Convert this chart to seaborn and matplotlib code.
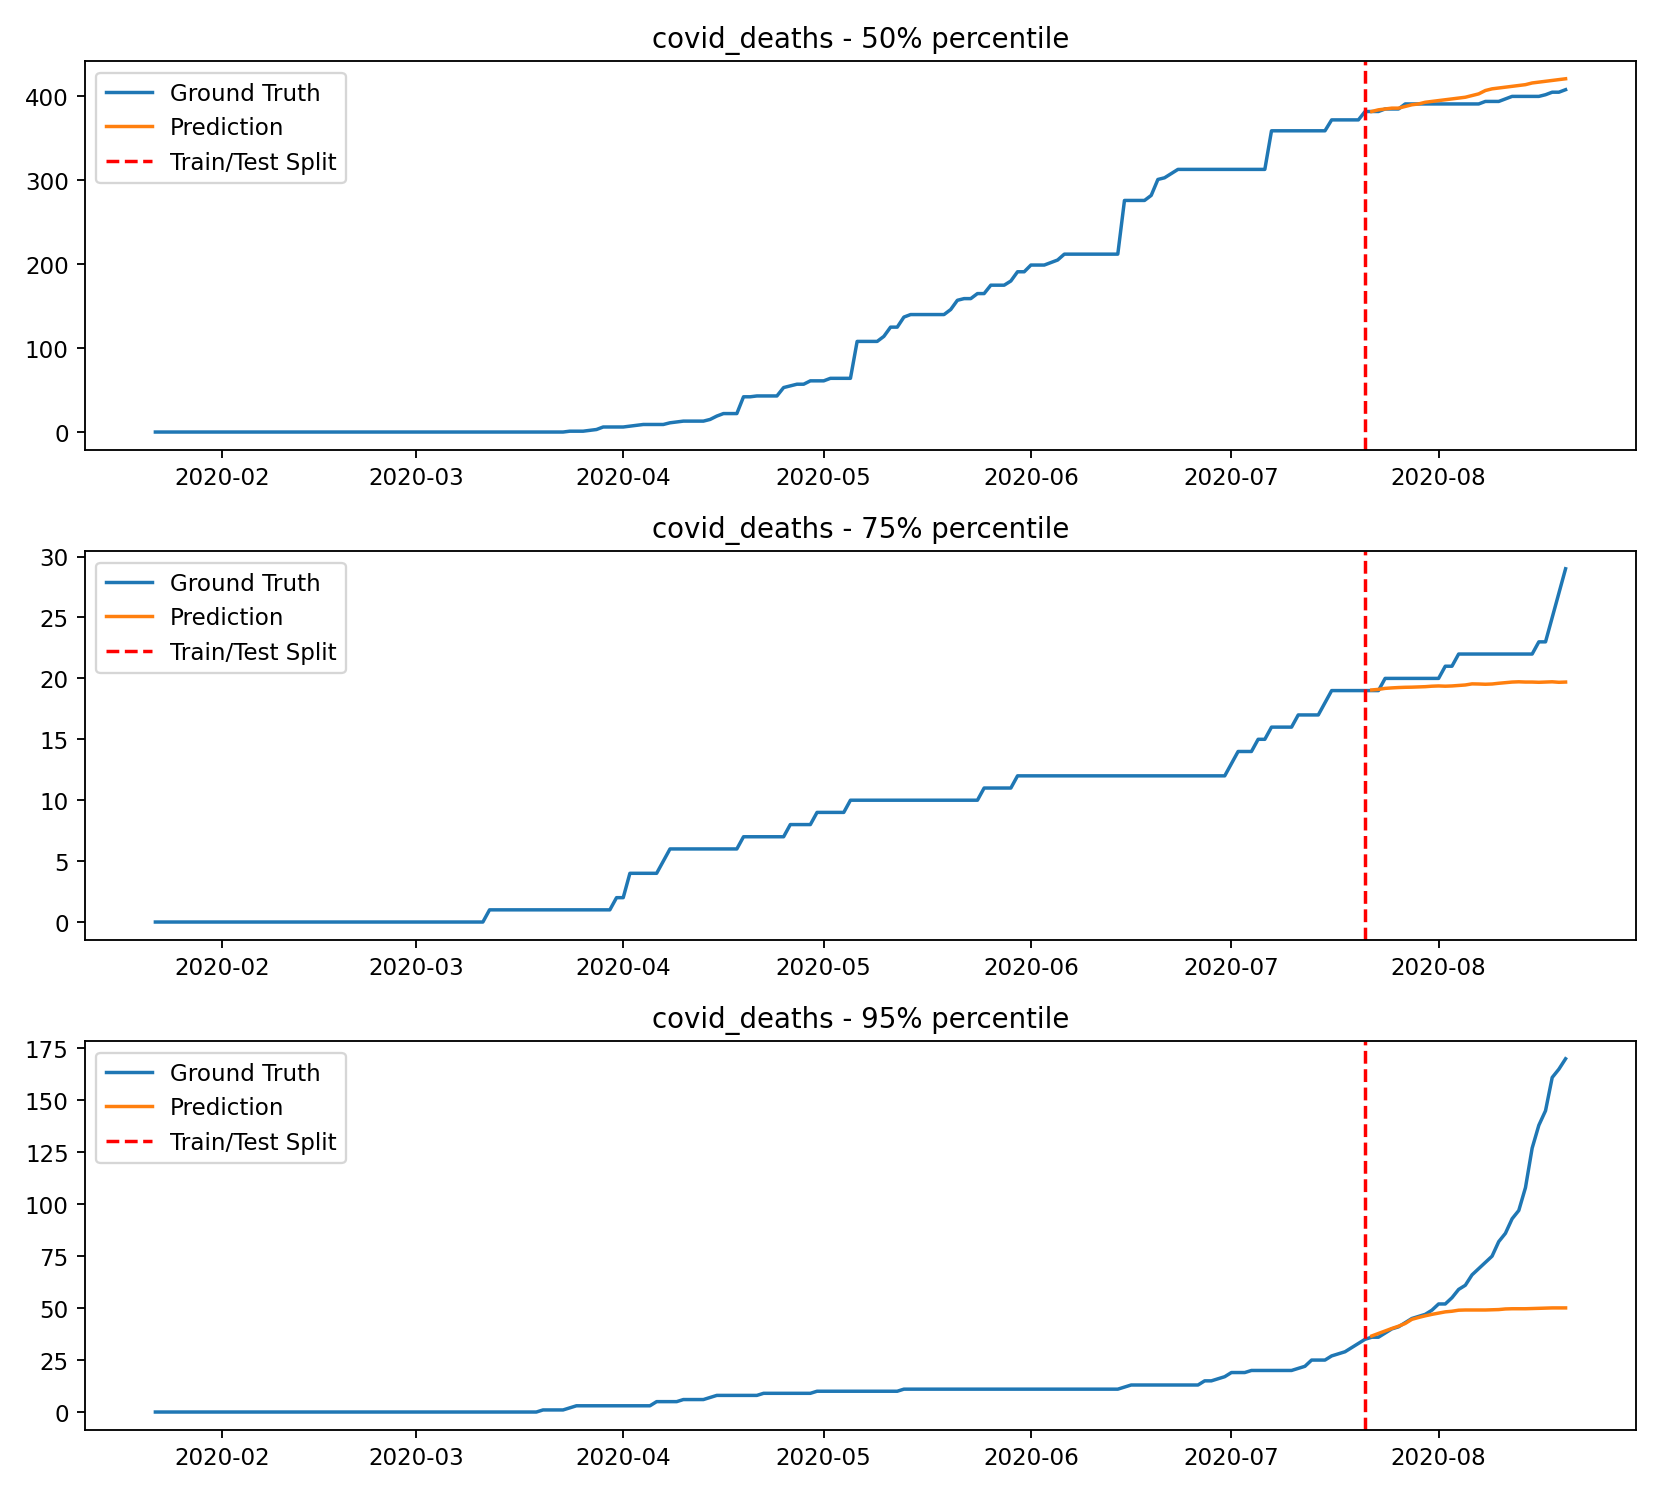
import pandas as pd
import seaborn as sns
import matplotlib
matplotlib.use("Agg")
import matplotlib.pyplot as plt

# daily values, 2020-01-22 .. 2020-08-20
start_date = "2020-01-22"
split_date = "2020-07-21"
pred_start = "2020-07-22"
percentiles = ["50%", "75%", "95%"]

truth_50 = [
    0, 0, 0, 0, 0, 0, 0, 0, 0, 0,
    0, 0, 0, 0, 0, 0, 0, 0, 0, 0,
    0, 0, 0, 0, 0, 0, 0, 0, 0, 0,
    0, 0, 0, 0, 0, 0, 0, 0, 0, 0,
    0, 0, 0, 0, 0, 0, 0, 0, 0, 0,
    0, 0, 0, 0, 0, 0, 0, 0, 0, 0,
    0, 0, 1, 1, 1, 2, 3, 6, 6, 6,
    6, 7, 8, 9, 9, 9, 9, 11, 12, 13,
    13, 13, 13, 15, 19, 22, 22, 22, 42, 42,
    43, 43, 43, 43, 53, 55, 57, 57, 61, 61,
    61, 64, 64, 64, 64, 108, 108, 108, 108, 114,
    125, 125, 137, 140, 140, 140, 140, 140, 140, 146,
    157, 159, 159, 165, 165, 175, 175, 175, 180, 191,
    191, 199, 199, 199, 202, 205, 212, 212, 212, 212,
    212, 212, 212, 212, 212, 276, 276, 276, 276, 282,
    301, 303, 308, 313, 313, 313, 313, 313, 313, 313,
    313, 313, 313, 313, 313, 313, 313, 359, 359, 359,
    359, 359, 359, 359, 359, 359, 372, 372, 372, 372,
    372, 382, 382, 382, 385, 385, 385, 391, 391, 391,
    391, 391, 391, 391, 391, 391, 391, 391, 391, 394,
    394, 394, 397, 400, 400, 400, 400, 400, 402, 405,
    405, 408,
]

truth_75 = [
    0, 0, 0, 0, 0, 0, 0, 0, 0, 0,
    0, 0, 0, 0, 0, 0, 0, 0, 0, 0,
    0, 0, 0, 0, 0, 0, 0, 0, 0, 0,
    0, 0, 0, 0, 0, 0, 0, 0, 0, 0,
    0, 0, 0, 0, 0, 0, 0, 0, 0, 0,
    1, 1, 1, 1, 1, 1, 1, 1, 1, 1,
    1, 1, 1, 1, 1, 1, 1, 1, 1, 2,
    2, 4, 4, 4, 4, 4, 5, 6, 6, 6,
    6, 6, 6, 6, 6, 6, 6, 6, 7, 7,
    7, 7, 7, 7, 7, 8, 8, 8, 8, 9,
    9, 9, 9, 9, 10, 10, 10, 10, 10, 10,
    10, 10, 10, 10, 10, 10, 10, 10, 10, 10,
    10, 10, 10, 10, 11, 11, 11, 11, 11, 12,
    12, 12, 12, 12, 12, 12, 12, 12, 12, 12,
    12, 12, 12, 12, 12, 12, 12, 12, 12, 12,
    12, 12, 12, 12, 12, 12, 12, 12, 12, 12,
    12, 13, 14, 14, 14, 15, 15, 16, 16, 16,
    16, 17, 17, 17, 17, 18, 19, 19, 19, 19,
    19, 19, 19, 19, 20, 20, 20, 20, 20, 20,
    20, 20, 20, 21, 21, 22, 22, 22, 22, 22,
    22, 22, 22, 22, 22, 22, 22, 23, 23, 25,
    27, 29,
]

truth_95 = [
    0, 0, 0, 0, 0, 0, 0, 0, 0, 0,
    0, 0, 0, 0, 0, 0, 0, 0, 0, 0,
    0, 0, 0, 0, 0, 0, 0, 0, 0, 0,
    0, 0, 0, 0, 0, 0, 0, 0, 0, 0,
    0, 0, 0, 0, 0, 0, 0, 0, 0, 0,
    0, 0, 0, 0, 0, 0, 0, 0, 1, 1,
    1, 1, 2, 3, 3, 3, 3, 3, 3, 3,
    3, 3, 3, 3, 3, 5, 5, 5, 5, 6,
    6, 6, 6, 7, 8, 8, 8, 8, 8, 8,
    8, 9, 9, 9, 9, 9, 9, 9, 9, 10,
    10, 10, 10, 10, 10, 10, 10, 10, 10, 10,
    10, 10, 11, 11, 11, 11, 11, 11, 11, 11,
    11, 11, 11, 11, 11, 11, 11, 11, 11, 11,
    11, 11, 11, 11, 11, 11, 11, 11, 11, 11,
    11, 11, 11, 11, 11, 12, 13, 13, 13, 13,
    13, 13, 13, 13, 13, 13, 13, 15, 15, 16,
    17, 19, 19, 19, 20, 20, 20, 20, 20, 20,
    20, 21, 22, 25, 25, 25, 27, 28, 29, 31,
    33, 35, 36, 36, 38, 40, 41, 43, 45, 46,
    47, 49, 52, 52, 55, 59, 61, 66, 69, 72,
    75, 82, 86, 93, 97, 108, 127, 138, 145, 161,
    165, 170,
]

# predictions, 2020-07-22 .. 2020-08-20
pred_50 = [
    382, 384, 385, 386, 386, 388, 390, 391, 393, 394,
    395, 396, 397, 398, 399, 401, 403, 407, 409, 410,
    411, 412, 413, 414, 416, 417, 418, 419, 420, 421,
]

pred_75 = [
    19.05, 19.1, 19.18, 19.22, 19.25, 19.27, 19.28, 19.3, 19.32, 19.36,
    19.38, 19.36, 19.38, 19.42, 19.46, 19.55, 19.54, 19.52, 19.54, 19.6,
    19.65, 19.7, 19.72, 19.7, 19.7, 19.68, 19.7, 19.72, 19.68, 19.7,
]

pred_95 = [
    36.6, 37.8, 39.0, 40.2, 41.3, 42.6, 44.6, 45.5, 46.3, 47.0,
    47.6, 48.2, 48.5, 49.0, 49.1, 49.1, 49.1, 49.1, 49.2, 49.3,
    49.6, 49.7, 49.7, 49.7, 49.8, 49.9, 50.0, 50.1, 50.1, 50.1,
]


def main():
    truths = [truth_50, truth_75, truth_95]
    preds = [pred_50, pred_75, pred_95]

    fig, axes = plt.subplots(3, 1, figsize=(10, 9))

    for ax, pct, truth, pred in zip(axes, percentiles, truths, preds):
        gt_df = pd.DataFrame({
            "date": pd.date_range(start_date, periods=len(truth), freq="D"),
            "value": truth,
        })
        pr_df = pd.DataFrame({
            "date": pd.date_range(pred_start, periods=len(pred), freq="D"),
            "value": pred,
        })

        sns.lineplot(data=gt_df, x="date", y="value", ax=ax,
                     color="tab:blue", label="Ground Truth")
        sns.lineplot(data=pr_df, x="date", y="value", ax=ax,
                     color="tab:orange", label="Prediction")
        ax.axvline(pd.Timestamp(split_date), color="red", linestyle="--",
                   label="Train/Test Split")

        ax.set_title(f"covid_deaths - {pct} percentile")
        ax.set_xlabel("")
        ax.set_ylabel("")
        ax.legend(loc="upper left")

    plt.tight_layout()
    fig.savefig("out.png", dpi=166.1)


if __name__ == '__main__':
    main()
